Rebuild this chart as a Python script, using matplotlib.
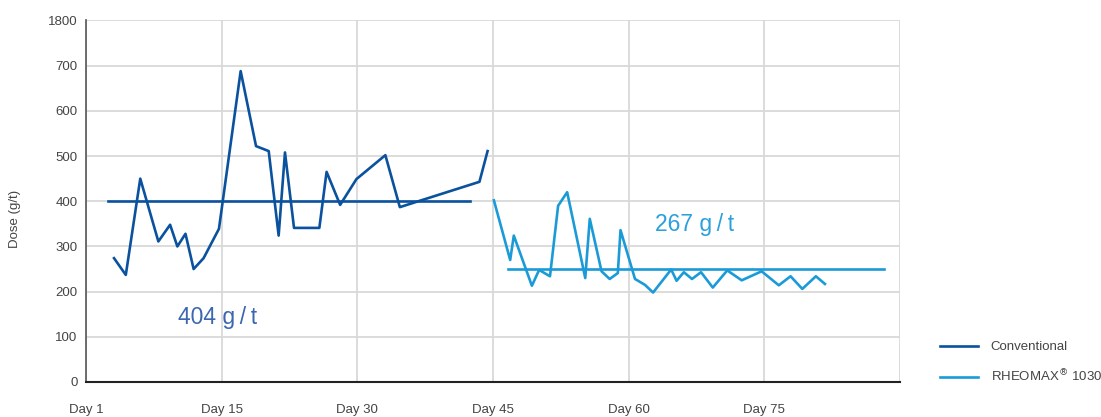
import matplotlib.pyplot as plt

plt.rcParams['font.family'] = ['Liberation Sans', 'DejaVu Sans']

# Conventional dosing (day index, g/t)
conv_day = [3.1, 4.4, 6.0, 8.0, 9.3, 10.1, 11.0, 11.9, 13.0, 14.7, 17.1, 18.8,
            20.2, 21.3, 22.0, 23.0, 25.8, 26.6, 28.1, 29.9, 33.1, 34.7, 43.5, 44.4]
conv_dose = [274, 237, 450, 311, 348, 300, 328, 250, 274, 339, 688, 522,
             511, 324, 508, 341, 341, 465, 392, 449, 502, 387, 443, 511]

# RHEOMAX 1030 dosing
rheo_day = [45.1, 46.9, 47.3, 49.3, 50.1, 51.3, 52.2, 53.2, 55.2, 55.7, 57.0, 57.9,
            58.8, 59.1, 60.7, 61.8, 62.7, 64.7, 65.3, 66.1, 67.0, 68.0, 69.3, 70.9,
            72.5, 74.7, 76.6, 77.9, 79.2, 80.7, 81.7]
rheo_dose = [402, 270, 324, 213, 248, 234, 390, 420, 230, 361, 245, 228,
             241, 336, 228, 215, 198, 249, 224, 243, 228, 243, 209, 247,
             225, 245, 214, 234, 206, 234, 217]

# average lines
conv_avg_x = [2.4, 42.5]
conv_avg_y = [400, 400]
rheo_avg_x = [46.7, 88.2]
rheo_avg_y = [250, 250]

xticks = [0, 15, 30, 45, 60, 75, 90]
xlabels = ["Day 1", "Day 15", "Day 30", "Day 45", "Day 60", "Day 75", ""]
yticks = [0, 100, 200, 300, 400, 500, 600, 700, 800]
ylabels = ["0", "100", "200", "300", "400", "500", "600", "700", "1800"]

dark_blue = "#0b529e"
light_blue = "#1a9bd7"

fig = plt.figure(figsize=(11.01, 4.17), dpi=100)
ax = fig.add_axes([86/1101, 35/417, 814/1101, 361.5/417])

ax.plot(conv_day, conv_dose, color=dark_blue, lw=1.9, label="Conventional")
ax.plot(conv_avg_x, conv_avg_y, color=dark_blue, lw=1.9)
ax.plot(rheo_day, rheo_dose, color=light_blue, lw=1.9, label="RHEOMAX$^{\u00ae}$ 1030")
ax.plot(rheo_avg_x, rheo_avg_y, color=light_blue, lw=1.9)

# average labels
ax.text(14.5, 128, "404 g\u2009/\u2009t", color="#3b66b0", fontsize=16.5,
        ha="center", va="baseline", family=['Liberation Sans', 'DejaVu Sans'])
ax.text(67.3, 335, "267 g\u2009/\u2009t", color="#2ca0dc", fontsize=16.5,
        ha="center", va="baseline", family=['Liberation Sans', 'DejaVu Sans'])

ax.set_xlim(0, 90)
ax.set_ylim(0, 800)
ax.set_xticks(xticks)
ax.set_xticklabels(xlabels)
ax.set_yticks(yticks)
ax.set_yticklabels(ylabels)
ax.tick_params(length=0, labelsize=9.5, colors="#444444", pad=6)
ax.tick_params(axis='x', pad=16)
ax.grid(True, color="#d9d9d9", lw=1.3)
ax.set_axisbelow(True)

for s in ["top", "right"]:
    ax.spines[s].set_visible(False)
ax.spines["left"].set_color("#555555")
ax.spines["left"].set_linewidth(1.2)
ax.spines["bottom"].set_color("#222222")
ax.spines["bottom"].set_linewidth(1.5)

ax.set_ylabel("Dose (g/t)", fontsize=9.5, color="#444444")
ax.yaxis.set_label_coords(-0.08, 0.45)

leg = fig.legend(loc="center left", bbox_to_anchor=(940/1101, 54/417), frameon=False,
                 fontsize=9.5, handlelength=2.9, handletextpad=0.95, labelspacing=1.15,
                 borderpad=0, borderaxespad=0)
for t in leg.get_texts():
    t.set_color("#444444")

fig.savefig("out.png", dpi=100)
